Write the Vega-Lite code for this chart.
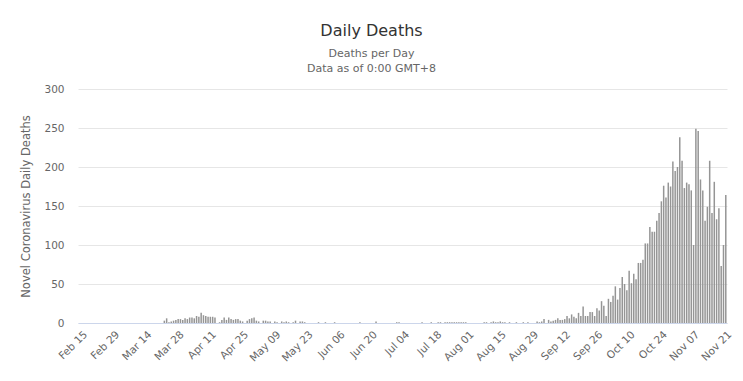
{
"$schema":"https://vega.github.io/schema/vega-lite/v6.json",
"width":649,"height":234,
"autosize":{"type":"none"},
"padding":{"left":78,"top":89,"right":16,"bottom":58},
"background":"white",
"title":{"text":"Daily Deaths","subtitle":["Deaths per Day","Data as of 0:00 GMT+8"],"anchor":"middle","dx":-31,"font":"DejaVu Sans","fontSize":16,"fontWeight":"normal","color":"#333333","subtitleFont":"DejaVu Sans","subtitleFontSize":11,"subtitleColor":"#666666","subtitlePadding":9,"subtitleLineHeight":15,"offset":10},
"data":{"values":[
{"d":"Feb 15","v":0},{"d":"Feb 16","v":0},{"d":"Feb 17","v":0},{"d":"Feb 18","v":0},{"d":"Feb 19","v":0},{"d":"Feb 20","v":0},{"d":"Feb 21","v":0},{"d":"Feb 22","v":0},{"d":"Feb 23","v":0},{"d":"Feb 24","v":0},{"d":"Feb 25","v":0},{"d":"Feb 26","v":0},{"d":"Feb 27","v":0},{"d":"Feb 28","v":0},{"d":"Feb 29","v":0},
{"d":"Mar 01","v":0},{"d":"Mar 02","v":0},{"d":"Mar 03","v":0},{"d":"Mar 04","v":0},{"d":"Mar 05","v":0},{"d":"Mar 06","v":0},{"d":"Mar 07","v":0},{"d":"Mar 08","v":0},{"d":"Mar 09","v":0},{"d":"Mar 10","v":0},{"d":"Mar 11","v":0},{"d":"Mar 12","v":0},{"d":"Mar 13","v":0},{"d":"Mar 14","v":0},{"d":"Mar 15","v":0},{"d":"Mar 16","v":0},{"d":"Mar 17","v":0},{"d":"Mar 18","v":0},{"d":"Mar 19","v":0},{"d":"Mar 20","v":0},{"d":"Mar 21","v":0},{"d":"Mar 22","v":0},{"d":"Mar 23","v":3},{"d":"Mar 24","v":6},{"d":"Mar 25","v":1},{"d":"Mar 26","v":2},{"d":"Mar 27","v":3},{"d":"Mar 28","v":4},{"d":"Mar 29","v":5},{"d":"Mar 30","v":5},{"d":"Mar 31","v":4},
{"d":"Apr 01","v":6},{"d":"Apr 02","v":5},{"d":"Apr 03","v":7},{"d":"Apr 04","v":7},{"d":"Apr 05","v":6},{"d":"Apr 06","v":9},{"d":"Apr 07","v":8},{"d":"Apr 08","v":13},{"d":"Apr 09","v":10},{"d":"Apr 10","v":9},{"d":"Apr 11","v":8},{"d":"Apr 12","v":8},{"d":"Apr 13","v":8},{"d":"Apr 14","v":7},{"d":"Apr 15","v":0},{"d":"Apr 16","v":1},{"d":"Apr 17","v":4},{"d":"Apr 18","v":7},{"d":"Apr 19","v":4},{"d":"Apr 20","v":7},{"d":"Apr 21","v":5},{"d":"Apr 22","v":4},{"d":"Apr 23","v":5},{"d":"Apr 24","v":5},{"d":"Apr 25","v":3},{"d":"Apr 26","v":2},{"d":"Apr 27","v":0},{"d":"Apr 28","v":3},{"d":"Apr 29","v":5},{"d":"Apr 30","v":6},
{"d":"May 01","v":7},{"d":"May 02","v":3},{"d":"May 03","v":2},{"d":"May 04","v":0},{"d":"May 05","v":3},{"d":"May 06","v":3},{"d":"May 07","v":2},{"d":"May 08","v":2},{"d":"May 09","v":0},{"d":"May 10","v":2},{"d":"May 11","v":1},{"d":"May 12","v":0},{"d":"May 13","v":2},{"d":"May 14","v":1},{"d":"May 15","v":2},{"d":"May 16","v":1},{"d":"May 17","v":0},{"d":"May 18","v":1},{"d":"May 19","v":3},{"d":"May 20","v":0},{"d":"May 21","v":2},{"d":"May 22","v":2},{"d":"May 23","v":1},{"d":"May 24","v":0},{"d":"May 25","v":0},{"d":"May 26","v":0},{"d":"May 27","v":0},{"d":"May 28","v":0},{"d":"May 29","v":1},{"d":"May 30","v":0},{"d":"May 31","v":0},
{"d":"Jun 01","v":1},{"d":"Jun 02","v":0},{"d":"Jun 03","v":0},{"d":"Jun 04","v":0},{"d":"Jun 05","v":1},{"d":"Jun 06","v":0},{"d":"Jun 07","v":0},{"d":"Jun 08","v":0},{"d":"Jun 09","v":0},{"d":"Jun 10","v":0},{"d":"Jun 11","v":0},{"d":"Jun 12","v":0},{"d":"Jun 13","v":0},{"d":"Jun 14","v":0},{"d":"Jun 15","v":0},{"d":"Jun 16","v":1},{"d":"Jun 17","v":0},{"d":"Jun 18","v":0},{"d":"Jun 19","v":0},{"d":"Jun 20","v":0},{"d":"Jun 21","v":0},{"d":"Jun 22","v":0},{"d":"Jun 23","v":2},{"d":"Jun 24","v":0},{"d":"Jun 25","v":0},{"d":"Jun 26","v":0},{"d":"Jun 27","v":0},{"d":"Jun 28","v":0},{"d":"Jun 29","v":0},{"d":"Jun 30","v":0},
{"d":"Jul 01","v":0},{"d":"Jul 02","v":1},{"d":"Jul 03","v":1},{"d":"Jul 04","v":0},{"d":"Jul 05","v":0},{"d":"Jul 06","v":0},{"d":"Jul 07","v":0},{"d":"Jul 08","v":0},{"d":"Jul 09","v":0},{"d":"Jul 10","v":0},{"d":"Jul 11","v":0},{"d":"Jul 12","v":0},{"d":"Jul 13","v":1},{"d":"Jul 14","v":0},{"d":"Jul 15","v":0},{"d":"Jul 16","v":0},{"d":"Jul 17","v":1},{"d":"Jul 18","v":0},{"d":"Jul 19","v":0},{"d":"Jul 20","v":1},{"d":"Jul 21","v":1},{"d":"Jul 22","v":0},{"d":"Jul 23","v":1},{"d":"Jul 24","v":1},{"d":"Jul 25","v":1},{"d":"Jul 26","v":1},{"d":"Jul 27","v":1},{"d":"Jul 28","v":1},{"d":"Jul 29","v":1},{"d":"Jul 30","v":1},{"d":"Jul 31","v":1},
{"d":"Aug 01","v":1},{"d":"Aug 02","v":0},{"d":"Aug 03","v":0},{"d":"Aug 04","v":0},{"d":"Aug 05","v":0},{"d":"Aug 06","v":0},{"d":"Aug 07","v":0},{"d":"Aug 08","v":0},{"d":"Aug 09","v":1},{"d":"Aug 10","v":1},{"d":"Aug 11","v":0},{"d":"Aug 12","v":1},{"d":"Aug 13","v":2},{"d":"Aug 14","v":1},{"d":"Aug 15","v":1},{"d":"Aug 16","v":2},{"d":"Aug 17","v":1},{"d":"Aug 18","v":1},{"d":"Aug 19","v":0},{"d":"Aug 20","v":1},{"d":"Aug 21","v":0},{"d":"Aug 22","v":0},{"d":"Aug 23","v":1},{"d":"Aug 24","v":0},{"d":"Aug 25","v":0},{"d":"Aug 26","v":1},{"d":"Aug 27","v":0},{"d":"Aug 28","v":1},{"d":"Aug 29","v":0},{"d":"Aug 30","v":0},{"d":"Aug 31","v":0},
{"d":"Sep 01","v":2},{"d":"Sep 02","v":1},{"d":"Sep 03","v":2},{"d":"Sep 04","v":5},{"d":"Sep 05","v":0},{"d":"Sep 06","v":4},{"d":"Sep 07","v":2},{"d":"Sep 08","v":3},{"d":"Sep 09","v":4},{"d":"Sep 10","v":6},{"d":"Sep 11","v":4},{"d":"Sep 12","v":4},{"d":"Sep 13","v":5},{"d":"Sep 14","v":9},{"d":"Sep 15","v":6},{"d":"Sep 16","v":11},{"d":"Sep 17","v":8},{"d":"Sep 18","v":6},{"d":"Sep 19","v":13},{"d":"Sep 20","v":9},{"d":"Sep 21","v":21},{"d":"Sep 22","v":9},{"d":"Sep 23","v":9},{"d":"Sep 24","v":14},{"d":"Sep 25","v":14},{"d":"Sep 26","v":9},{"d":"Sep 27","v":19},{"d":"Sep 28","v":16},{"d":"Sep 29","v":28},{"d":"Sep 30","v":22},
{"d":"Oct 01","v":9},{"d":"Oct 02","v":31},{"d":"Oct 03","v":27},{"d":"Oct 04","v":35},{"d":"Oct 05","v":47},{"d":"Oct 06","v":30},{"d":"Oct 07","v":45},{"d":"Oct 08","v":59},{"d":"Oct 09","v":50},{"d":"Oct 10","v":42},{"d":"Oct 11","v":67},{"d":"Oct 12","v":51},{"d":"Oct 13","v":63},{"d":"Oct 14","v":56},{"d":"Oct 15","v":77},{"d":"Oct 16","v":77},{"d":"Oct 17","v":81},{"d":"Oct 18","v":102},{"d":"Oct 19","v":102},{"d":"Oct 20","v":123},{"d":"Oct 21","v":117},{"d":"Oct 22","v":117},{"d":"Oct 23","v":131},{"d":"Oct 24","v":141},{"d":"Oct 25","v":156},{"d":"Oct 26","v":176},{"d":"Oct 27","v":161},{"d":"Oct 28","v":180},{"d":"Oct 29","v":175},{"d":"Oct 30","v":207},{"d":"Oct 31","v":195},
{"d":"Nov 01","v":200},{"d":"Nov 02","v":238},{"d":"Nov 03","v":208},{"d":"Nov 04","v":173},{"d":"Nov 05","v":180},{"d":"Nov 06","v":178},{"d":"Nov 07","v":170},{"d":"Nov 08","v":100},{"d":"Nov 09","v":249},{"d":"Nov 10","v":246},{"d":"Nov 11","v":184},{"d":"Nov 12","v":170},{"d":"Nov 13","v":131},{"d":"Nov 14","v":149},{"d":"Nov 15","v":208},{"d":"Nov 16","v":141},{"d":"Nov 17","v":181},{"d":"Nov 18","v":133},{"d":"Nov 19","v":147},{"d":"Nov 20","v":73},{"d":"Nov 21","v":100},{"d":"Nov 22","v":164}
]},
"mark":{"type":"bar","color":"#959595"},
"encoding":{
"x":{"field":"d","type":"ordinal","sort":null,"scale":{"paddingInner":0.35,"paddingOuter":0.2},
"axis":{"title":null,"values":["Feb 15","Feb 29","Mar 14","Mar 28","Apr 11","Apr 25","May 09","May 23","Jun 06","Jun 20","Jul 04","Jul 18","Aug 01","Aug 15","Aug 29","Sep 12","Sep 26","Oct 10","Oct 24","Nov 07","Nov 21"],"labelAngle":-45,"labelAlign":"right","labelBaseline":"top","labelPadding":6,"labelOffset":3,"ticks":false,"grid":false,"domainColor":"#ccd6eb","labelColor":"#666666","labelFont":"DejaVu Sans","labelFontSize":10.5}},
"y":{"field":"v","type":"quantitative","scale":{"domain":[0,300],"nice":false},
"axis":{"title":"Novel Coronavirus Daily Deaths","titleFont":"DejaVu Sans","titleFontSize":11.5,"titleFontWeight":"normal","titleColor":"#666666","titlePadding":12,"values":[0,50,100,150,200,250,300],"domain":false,"ticks":false,"gridColor":"#e6e6e6","labelColor":"#666666","labelFont":"DejaVu Sans","labelFontSize":10.5,"labelPadding":14}}
},
"config":{"view":{"stroke":null}}
}
